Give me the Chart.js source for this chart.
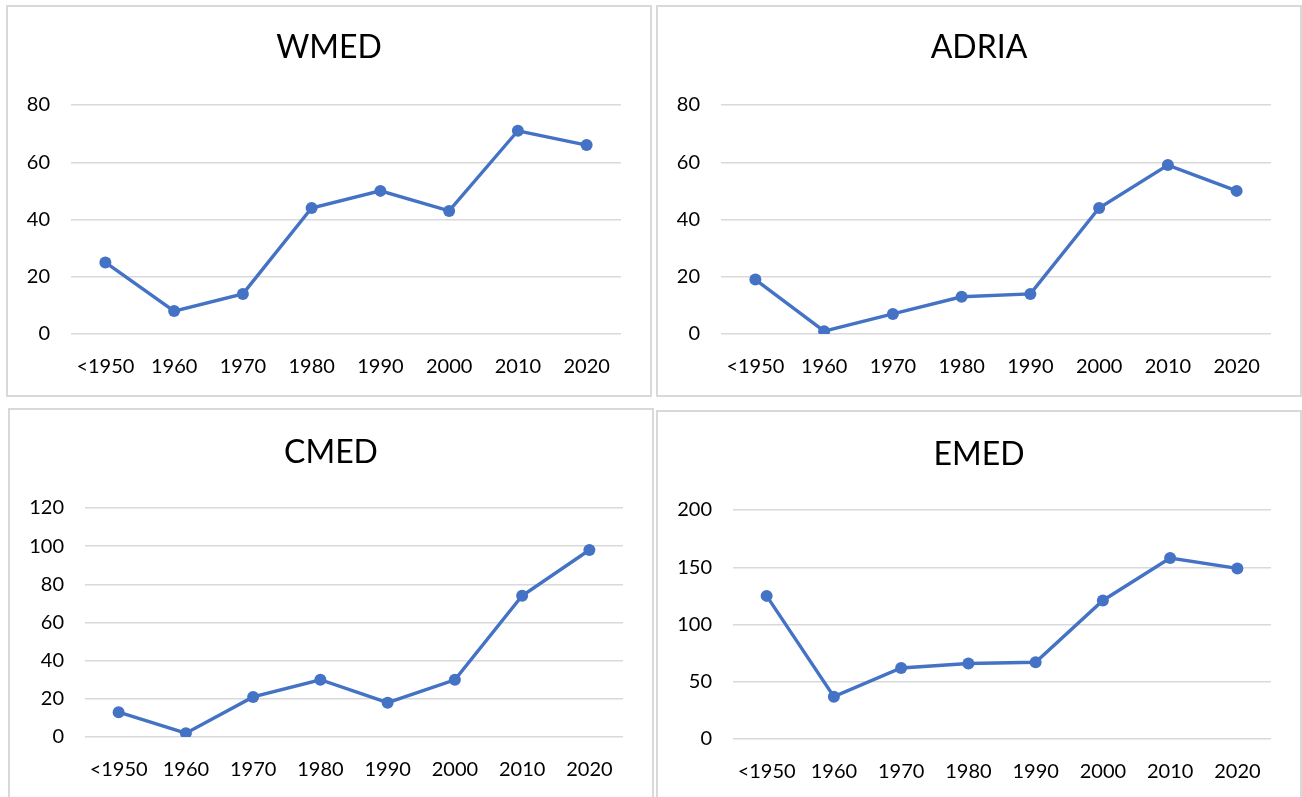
<!DOCTYPE html>
<html>
<head>
<meta charset="utf-8">
<script src="https://cdn.jsdelivr.net/npm/chart.js@4"></script>
<style>
body { margin: 0; background: #fff; width: 1302px; height: 797px; overflow: hidden; position: relative; }
.panel { position: absolute; border: 2px solid #d9d9d9; box-sizing: border-box; background: #fff; }
.panel canvas { position: absolute; left: 0; top: 0; }
</style>
</head>
<body>
<div class="panel" style="left:6px; top:5px; width:646px; height:392px;"><canvas id="c1"></canvas></div>
<div class="panel" style="left:656px; top:5px; width:646px; height:392px;"><canvas id="c2"></canvas></div>
<div class="panel" style="left:8px; top:408px; width:646px; height:400px;"><canvas id="c3"></canvas></div>
<div class="panel" style="left:656px; top:410px; width:646px; height:400px;"><canvas id="c4"></canvas></div>
<script>
// categories on the x axis
const years = ['<1950', '1960', '1970', '1980', '1990', '2000', '2010', '2020'];
// values
const wmed = [25, 8, 14, 44, 50, 43, 71, 66];
const adria = [19, 1, 7, 13, 14, 44, 59, 50];
const cmed = [13, 2, 21, 30, 18, 30, 74, 98];
const emed = [125, 37, 62, 66, 67, 121, 158, 149];
// panel titles
const titles = ['WMED', 'ADRIA', 'CMED', 'EMED'];
// y axis ticks per panel
const yMax = [80, 80, 120, 200];
const yStep = [20, 20, 20, 50];

const blue = '#4472C4';
const font = 'Lato, "Open Sans", sans-serif';

// draws one panel
function makeChart(id, title, values, max, step, axisW, titleTop) {
    const c = document.getElementById(id);
    c.width = 642;
    c.height = 388;
    return new Chart(c, {
        type: 'line',
        data: {
            labels: years,
            datasets: [{
                label: title,
                data: values,
                borderColor: blue,
                backgroundColor: blue,
                borderWidth: 3.4,
                pointRadius: 6,
                pointBorderWidth: 0,
                pointBackgroundColor: blue,
                tension: 0,
                fill: false
            }]
        },
        options: {
            responsive: false,
            animation: false,
            layout: { padding: 0 },
            plugins: {
                legend: { display: false },
                tooltip: { enabled: false },
                title: {
                    display: true,
                    text: title,
                    color: '#000',
                    font: { family: font, size: 32, weight: 'normal' },
                    padding: { top: titleTop, bottom: 98 - titleTop - 38.4 }
                }
            },
            scales: {
                x: {
                    offset: true,
                    grid: { display: false, drawTicks: false },
                    border: { display: false },
                    ticks: { color: '#000', font: { family: font, size: 20 }, padding: 21, maxRotation: 0 },
                    afterFit: function(s) { s.height = 61; }
                },
                y: {
                    min: 0,
                    max: max,
                    grid: { color: '#d9d9d9', lineWidth: 1.5, drawTicks: false },
                    border: { display: false },
                    ticks: { stepSize: step, color: '#000', font: { family: font, size: 20 }, padding: 21 },
                    afterFit: function(s) { s.width = axisW; }
                },
                // empty strip on the right so the title stays centred on the panel
                pad: {
                    position: 'right',
                    display: true,
                    grid: { display: false, drawTicks: false },
                    border: { display: false },
                    ticks: { display: false },
                    afterFit: function(s) { s.width = 29; }
                }
            }
        }
    });
}

makeChart('c1', titles[0], wmed, yMax[0], yStep[0], 63, 21);
makeChart('c2', titles[1], adria, yMax[1], yStep[1], 63, 21);
makeChart('c3', titles[2], cmed, yMax[2], yStep[2], 75, 23);
makeChart('c4', titles[3], emed, yMax[3], yStep[3], 75, 23);
</script>
</body>
</html>
